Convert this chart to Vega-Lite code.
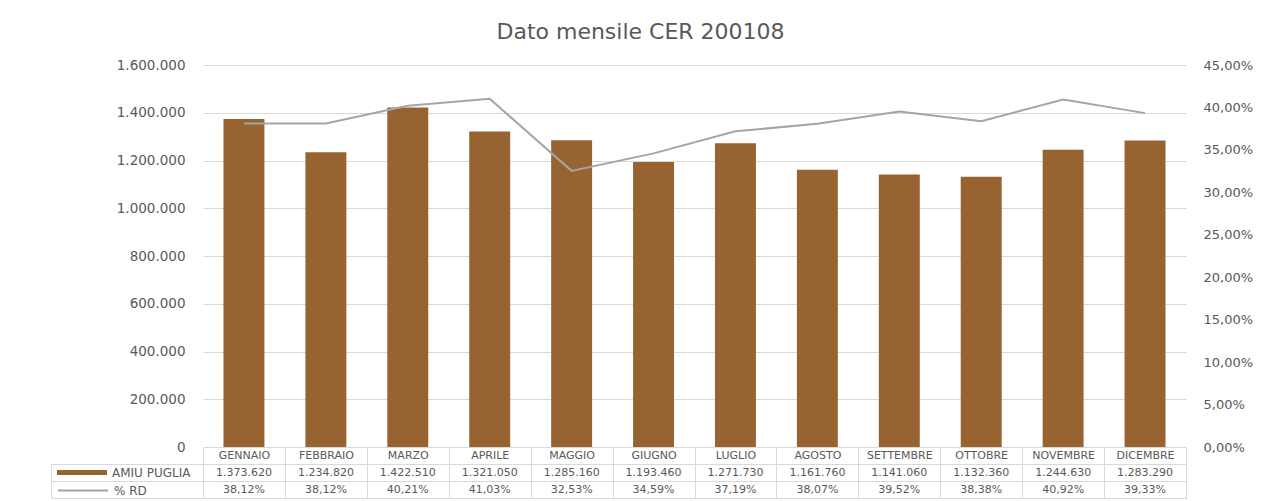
{
  "$schema": "https://vega.github.io/schema/vega-lite/v6.json",
  "background": "white",
  "padding": {"left": 50, "top": 21, "right": 5, "bottom": 3},
  "title": {"text": "Dato mensile CER 200108", "font": "DejaVu Sans", "fontSize": 22, "fontWeight": "normal", "color": "#595959", "offset": 14, "frame": "bounds", "anchor": "middle", "dx": -11},
  "datasets": {
    "mesi": [
      {"mese": "GENNAIO", "amiu": 1373620, "rd": 0.3812},
      {"mese": "FEBBRAIO", "amiu": 1234820, "rd": 0.3812},
      {"mese": "MARZO", "amiu": 1422510, "rd": 0.4021},
      {"mese": "APRILE", "amiu": 1321050, "rd": 0.4103},
      {"mese": "MAGGIO", "amiu": 1285160, "rd": 0.3253},
      {"mese": "GIUGNO", "amiu": 1193460, "rd": 0.3459},
      {"mese": "LUGLIO", "amiu": 1271730, "rd": 0.3719},
      {"mese": "AGOSTO", "amiu": 1161760, "rd": 0.3807},
      {"mese": "SETTEMBRE", "amiu": 1141060, "rd": 0.3952},
      {"mese": "OTTOBRE", "amiu": 1132360, "rd": 0.3838},
      {"mese": "NOVEMBRE", "amiu": 1244630, "rd": 0.4092},
      {"mese": "DICEMBRE", "amiu": 1283290, "rd": 0.3933}
    ]
  },
  "data": {"name": "mesi"},
  "bounds": "flush",
  "spacing": 17,
  "vconcat": [
    {
      "width": 983,
      "height": 382,
      "layer": [
        {
          "mark": {"type": "bar"},
          "encoding": {
            "x": {"field": "mese", "type": "nominal", "sort": null, "axis": null, "scale": {"paddingInner": 0.5, "paddingOuter": 0.25}},
            "y": {"field": "amiu", "type": "quantitative", "scale": {"domain": [0, 1600000]},
              "axis": {"title": null, "values": [0, 200000, 400000, 600000, 800000, 1000000, 1200000, 1400000, 1600000], "format": ",.0f", "grid": true, "domain": false, "ticks": false, "labelPadding": 18, "labelFontSize": 13.5}},
            "fill": {"datum": "AMIU PUGLIA", "type": "nominal", "scale": {"range": ["#976431"]},
              "legend": {"orient": "none", "legendX": -146, "legendY": 382.5, "title": null, "symbolType": "M-1,-0.1H1V0.1H-1Z", "symbolSize": 2500, "symbolStrokeWidth": 0, "labelFontSize": 12, "labelColor": "#595959", "labelFont": "DejaVu Sans", "labelOffset": 5}}
          }
        },
        {
          "mark": {"type": "line", "strokeWidth": 2},
          "encoding": {
            "x": {"field": "mese", "type": "nominal", "sort": null},
            "y": {"field": "rd", "type": "quantitative", "scale": {"domain": [0, 0.45]},
              "axis": {"orient": "right", "title": null, "values": [0, 0.05, 0.1, 0.15, 0.2, 0.25, 0.3, 0.35, 0.4, 0.45], "format": ".2%", "grid": false, "domain": false, "ticks": false, "labelPadding": 17, "labelFontSize": 13}},
            "stroke": {"datum": "% RD", "type": "nominal", "scale": {"range": ["#A5A5A5"]},
              "legend": {"orient": "none", "legendX": -146, "legendY": 399.5, "title": null, "symbolType": "stroke", "symbolSize": 2500, "symbolStrokeWidth": 2, "labelFontSize": 12, "labelColor": "#595959", "labelFont": "DejaVu Sans", "labelOffset": 5}}
          }
        }
      ],
      "resolve": {"scale": {"y": "independent"}}
    },
    {
      "width": 983,
      "height": 34,
      "layer": [
        {
          "mark": {"type": "text"},
          "encoding": {
            "x": {"field": "mese", "type": "nominal", "sort": null, "scale": {"paddingInner": 0, "paddingOuter": 0},
              "axis": {"orient": "top", "title": null, "labelAngle": 0, "tickBand": "extent", "ticks": true, "tickSize": 17, "labelPadding": -8, "labelBaseline": "middle", "grid": true, "domain": true, "labelFontSize": 11}},
            "y": {"datum": "AMIU PUGLIA", "type": "nominal", "scale": {"domain": ["AMIU PUGLIA", "% RD"], "paddingInner": 0, "paddingOuter": 0},
              "axis": {"title": null, "orient": "left", "offset": 152, "tickBand": "extent", "ticks": true, "tickSize": -152, "labels": false, "grid": true, "domain": true}},
            "text": {"field": "amiu", "type": "quantitative", "format": ",.0f"}
          }
        },
        {
          "mark": {"type": "text"},
          "encoding": {
            "x": {"field": "mese", "type": "nominal", "sort": null},
            "y": {"datum": "% RD", "type": "nominal"},
            "text": {"field": "rd", "type": "quantitative", "format": ".2%"}
          }
        }
      ]
    }
  ],
  "config": {
    "view": {"stroke": null},
    "font": "DejaVu Sans",
    "locale": {"number": {"decimal": ",", "thousands": ".", "grouping": [3], "currency": ["€", ""]}},
    "axis": {"labelFont": "DejaVu Sans", "labelColor": "#595959", "gridColor": "#D9D9D9", "domainColor": "#D9D9D9", "tickColor": "#D9D9D9"},
    "text": {"font": "DejaVu Sans", "fontSize": 11, "fill": "#595959"}
  }
}
